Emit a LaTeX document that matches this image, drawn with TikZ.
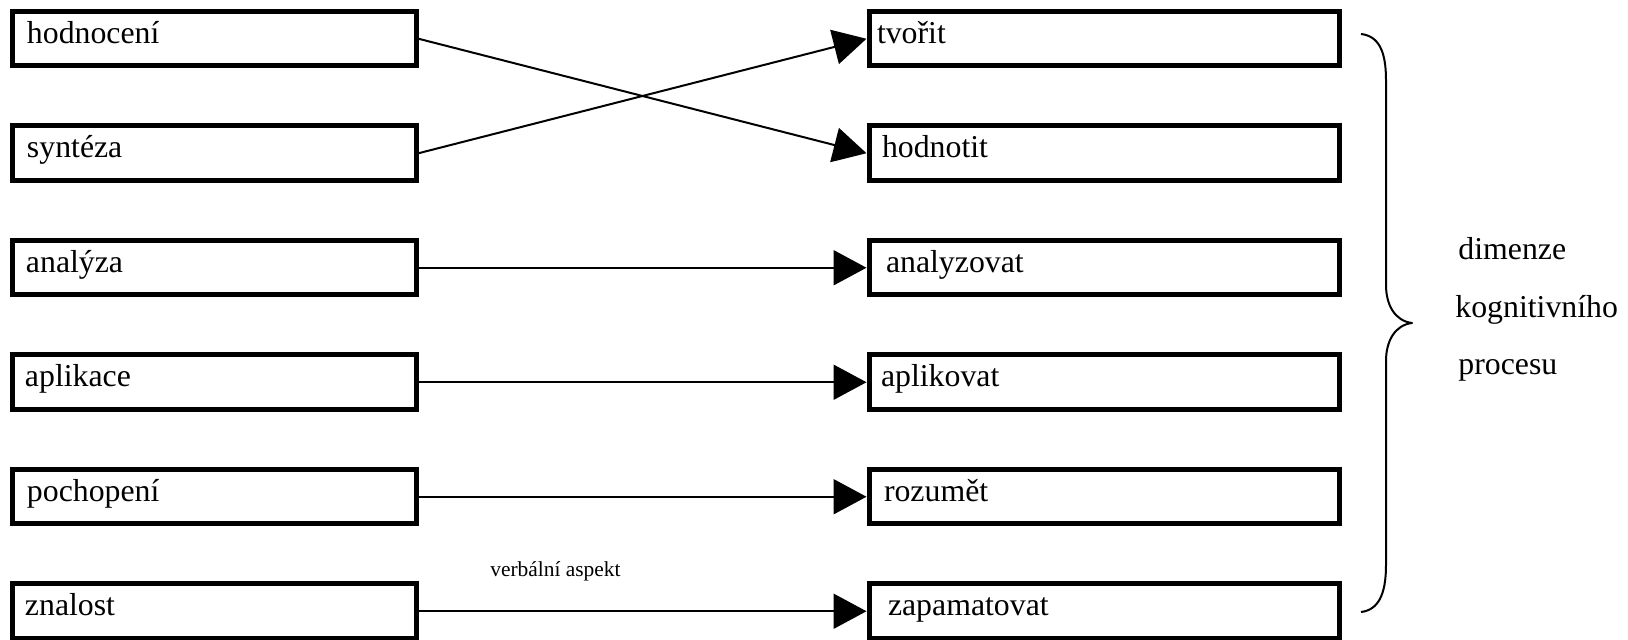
\documentclass[tikz,border=0pt]{standalone}
\usepackage{fontspec}
\setmainfont{Liberation Serif}
\usetikzlibrary{arrows.meta}
\tikzset{
  box/.style={draw, line width=2.5pt, rectangle, inner sep=0pt,
    minimum height=27.25pt, align=left,
    text height=11pt, text depth=6.25pt,
    font=\fontsize{15.9pt}{19pt}\selectfont,
    execute at begin node={\hspace*{#1}}},
  box/.default=0pt,
  lbox/.style={box=#1, minimum width=202pt, text width=190pt},
  lbox/.default=0pt,
  rbox/.style={box=#1, minimum width=235pt, text width=227pt},
  rbox/.default=0pt,
  conn/.style={line width=1pt, -{Triangle[length=16.5pt,width=17.5pt]}},
  bigtext/.style={inner sep=0pt, anchor=base west, font=\fontsize{15.9pt}{19pt}\selectfont},
  smalltext/.style={inner sep=0pt, anchor=base west, font=\fontsize{10.7pt}{13pt}\selectfont},
  bracestyle/.style={line width=1pt, line join=round}
}
\begin{document}
\begin{tikzpicture}[x=0.5pt, y=-0.5pt]
\useasboundingbox (0,0) rectangle (1628,640);
% left column
\node[lbox=1.5pt] (hodnoceni) at (214,38.75)  {hodnocení};
\node[lbox=1.5pt] (synteza)   at (214,153.25) {syntéza};
\node[lbox=1pt]   (analyza)   at (214,267.75) {analýza};
\node[lbox=0.5pt] (aplikace)  at (214,382.25) {aplikace};
\node[lbox=1.5pt] (pochopeni) at (214,496.75) {pochopení};
\node[lbox=0.5pt] (znalost)   at (214,611.25) {znalost};
% right column
\node[rbox=0pt]   (tvorit)      at (1104,38.75)  {tvořit};
\node[rbox=2.5pt] (hodnotit)    at (1104,153.25) {hodnotit};
\node[rbox=4.5pt] (analyzovat)  at (1104,267.75) {analyzovat};
\node[rbox=2pt]   (aplikovat)   at (1104,382.25) {aplikovat};
\node[rbox=3.5pt] (rozumet)     at (1104,496.75) {rozumět};
\node[rbox=5.5pt] (zapamatovat) at (1104,611.25) {zapamatovat};
% connectors
\draw[conn] (hodnoceni.east) -- (hodnotit.west);
\draw[conn] (synteza.east) -- (tvorit.west);
\draw[conn] (analyza.east) -- (analyzovat.west);
\draw[conn] (aplikace.east) -- (aplikovat.west);
\draw[conn] (pochopeni.east) -- (rozumet.west);
\draw[conn] (znalost.east) -- (zapamatovat.west);
% label
\node[smalltext] (verbal) at (490,577) {verbální aspekt};
% brace
\draw[bracestyle] (1361,34) .. controls (1378,36) and (1386,50) .. (1386,80)
  -- (1386,285) .. controls (1386,305) and (1395,321) .. (1412,323)
  .. controls (1395,325) and (1386,341) .. (1386,361)
  -- (1386,565) .. controls (1386,595) and (1378,610) .. (1361,612);
\node[bigtext] (dim1) at (1458,260) {dimenze};
\node[bigtext] (dim2) at (1455,318) {kognitivního};
\node[bigtext] (dim3) at (1458,375) {procesu};
\end{tikzpicture}
\end{document}
